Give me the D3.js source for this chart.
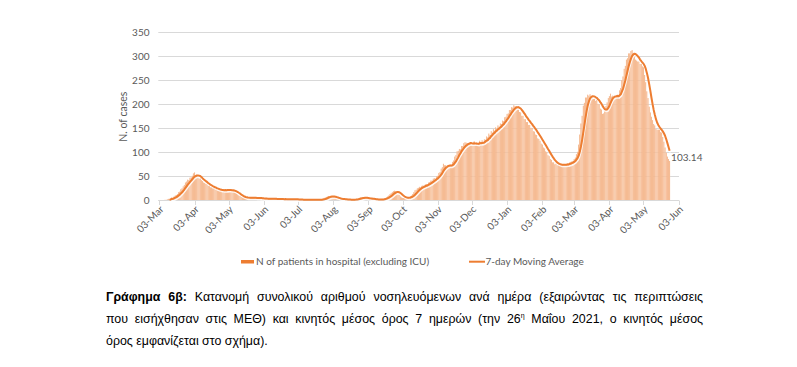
<!DOCTYPE html>
<html><head><meta charset="utf-8">
<script src="https://cdn.jsdelivr.net/npm/d3@7"></script>
<style>
html,body{margin:0;padding:0;background:#fff}
body{width:797px;height:367px;overflow:hidden;position:relative;font-family:"Liberation Sans",Arial,sans-serif}
svg{position:absolute;left:0;top:0}
.cap{position:absolute;left:106px;width:597px;font-size:12.4px;line-height:22px;color:#000}
.j{text-align:justify;text-align-last:justify}
sup{font-size:7px;vertical-align:5px;line-height:0}
</style></head><body>
<svg id="chart" width="797" height="280"></svg>
<div class="cap j" style="top:286px"><b>Γράφημα 6β:</b> Κατανομή συνολικού αριθμού νοσηλευόμενων ανά ημέρα (εξαιρώντας τις περιπτώσεις</div>
<div class="cap j" style="top:308px">που εισήχθησαν στις ΜΕΘ) και κινητός μέσος όρος 7 ημερών (την 26<sup>η</sup> Μαΐου 2021, ο κινητός μέσος</div>
<div class="cap" style="top:330px">όρος εμφανίζεται στο σχήμα).</div>
<script>
// ---------------- data ----------------
const firstDay = "2020-03-06";           // first daily value
const axisStart = "2020-03-03";
const axisEnd = "2021-06-03";
const tickDates = ["2020-03-03","2020-04-03","2020-05-03","2020-06-03","2020-07-03","2020-08-03",
  "2020-09-03","2020-10-03","2020-11-03","2020-12-03","2021-01-03","2021-02-03","2021-03-03",
  "2021-04-03","2021-05-03","2021-06-03"];
const yTicks = [0,50,100,150,200,250,300,350];
const seriesNames = ["N of patients in hospital (excluding ICU)", "7-day Moving Average"];
const maWindow = 7;
// daily number of patients in hospital (excluding ICU), from 6 Mar 2020 to 26 May 2021
const patients = [
  // Mar 2020 (6-31)
  0,0,1,1,2,3,2,4,6,5,8,10,11,13,17,18,23,25,29,32,37,39,43,42,47,48,
  // Apr 2020
  51,56,58,52,50,48,45,46,42,40,37,36,34,33,30,31,27,28,25,26,23,24,21,23,20,22,19,22,21,22,
  // May 2020
  22,21,23,20,21,19,21,18,16,14,12,10,9,7,6,6,5,5,5,6,6,5,5,6,5,5,5,4,5,5,4,
  // Jun 2020
  4,4,3,3,4,3,3,3,3,3,3,3,3,3,2,3,3,2,3,2,2,3,2,2,2,2,2,2,2,2,
  // Jul 2020
  2,2,2,1,1,1,1,1,1,1,1,1,1,1,1,1,1,1,1,1,1,1,1,2,3,5,6,7,8,9,8,
  // Aug 2020
  9,8,7,6,5,4,4,3,3,2,2,2,2,2,1,1,1,1,1,1,2,2,2,3,4,5,6,6,6,5,5,
  // Sep 2020
  4,4,4,3,3,3,2,2,2,1,1,1,2,2,3,3,4,5,6,8,10,13,15,17,19,20,19,17,14,12,
  // Oct 2020
  8,6,5,5,5,5,6,6,7,8,10,13,17,21,22,25,26,28,27,30,31,30,33,34,33,37,38,41,41,45,46,
  // Nov 2020
  45,50,51,57,59,66,69,76,73,73,69,72,72,74,73,80,83,91,94,102,103,107,106,113,113,119,121,120,118,119,
  // Dec 2020
  118,121,114,119,123,115,120,114,119,124,117,125,119,127,126,133,131,139,136,144,141,148,145,152,149,156,153,160,159,166,165,
  // Jan 2021
  173,174,180,181,188,188,194,193,198,196,196,191,191,184,183,176,176,169,169,163,163,157,157,151,151,144,143,137,136,129,128,
  // Feb 2021
  124,118,116,110,108,102,100,94,92,86,84,79,79,75,76,73,75,74,75,72,75,74,75,74,77,76,79,80,
  // Mar 2021
  81,82,86,89,96,101,116,137,160,176,197,203,214,214,220,218,221,215,217,211,213,207,209,201,200,191,189,180,181,185,196,
  // Apr 2021
  204,213,217,222,216,218,212,217,215,220,219,229,234,250,258,274,280,293,296,306,306,311,313,304,302,293,291,289,289,284,
  // May 2021 (1-26)
  284,279,277,261,246,227,213,195,183,174,167,159,156,149,147,147,147,142,141,132,122,110,99,91,86,82
];

// ---------------- chart ----------------
const parse = d3.utcParse("%Y-%m-%d");
const fmtTick = d3.utcFormat("%d-%b");
const day0 = parse(firstDay);
const rows = patients.map((v, i) => ({date: d3.utcDay.offset(day0, i), value: v}));
const maRows = rows.slice(maWindow - 1).map((r, k) => ({
  date: r.date,
  value: d3.mean(patients.slice(k, k + maWindow))
}));

const orange = "#ED7D31", grid = "#D9D9D9", txt = "#595959";
const font = "Lato, sans-serif";
const svg = d3.select("#chart");
const x = d3.scaleUtc().domain([parse(axisStart), parse(axisEnd)]).range([159.3, 678.7]);
const y = d3.scaleLinear().domain([0, 350]).range([200.3, 32.3]);
const step = x(d3.utcDay.offset(day0, 1)) - x(day0);

// gridlines
svg.append("g").selectAll("line").data(yTicks).join("line")
  .attr("x1", 158.3).attr("x2", 679)
  .attr("y1", d => Math.round(y(d)) + 0.5).attr("y2", d => Math.round(y(d)) + 0.5)
  .attr("stroke", grid).attr("stroke-width", 1);

// y labels
svg.append("g").selectAll("text").data(yTicks).join("text")
  .attr("x", 149.5).attr("y", d => y(d)).attr("dy", "0.35em")
  .attr("text-anchor", "end").attr("font-family", font).attr("font-size", 10)
  .attr("fill", txt).text(d => d);

// y title
svg.append("text").attr("transform", "translate(126.5,116.7) rotate(-90)")
  .attr("text-anchor", "middle").attr("font-family", font).attr("font-size", 10.5)
  .attr("fill", txt).text("N. of cases");

// bars: light body + darker core
const bars = svg.append("g");
bars.selectAll("rect.b").data(rows).join("rect").attr("class", "b")
  .attr("x", d => x(d.date) - step / 2).attr("width", step)
  .attr("y", d => y(d.value)).attr("height", d => y(0) - y(d.value))
  .attr("fill", "#FAD6BE");
bars.selectAll("rect.c").data(rows).join("rect").attr("class", "c")
  .attr("x", d => x(d.date) - step * 0.2).attr("width", step * 0.35)
  .attr("y", d => y(d.value)).attr("height", d => y(0) - y(d.value))
  .attr("fill", orange).attr("fill-opacity", 0.75);

// x axis line and ticks
svg.append("line").attr("x1", 158.3).attr("x2", 679).attr("y1", 200.5).attr("y2", 200.5)
  .attr("stroke", grid);
const tg = svg.append("g").selectAll("g").data(tickDates.map(parse)).join("g");
tg.append("line").attr("x1", d => Math.round(x(d)) + 0.5).attr("x2", d => Math.round(x(d)) + 0.5)
  .attr("y1", 200.5).attr("y2", 205).attr("stroke", grid);
tg.append("text")
  .attr("transform", d => `translate(${x(d) + 2.5},${207.5}) rotate(-45)`)
  .attr("text-anchor", "end").attr("dy", "0.35em")
  .attr("font-family", font).attr("font-size", 10).attr("fill", txt)
  .text(d => fmtTick(d));

// moving average line
const line = d3.line().x(d => x(d.date)).y(d => y(d.value));
svg.append("path").datum(maRows).attr("d", line).attr("fill", "none")
  .attr("stroke", "#fff").attr("stroke-opacity", 0.85).attr("stroke-width", 1.6)
  .attr("transform", "translate(0.7,1.8)").attr("stroke-linejoin", "round");
svg.append("path").datum(maRows).attr("d", line).attr("fill", "none")
  .attr("stroke", orange).attr("stroke-width", 2).attr("stroke-linejoin", "round");

// end label
const last = maRows[maRows.length - 1];
svg.append("text").attr("x", x(last.date) + 1.5).attr("y", y(last.value) + 7)
  .attr("dy", "0.35em").attr("font-family", font).attr("font-size", 10)
  .attr("fill", txt).text(d3.format(".2f")(last.value));

// legend
const lg = svg.append("g");
lg.append("rect").attr("x", 241).attr("y", 260).attr("width", 13).attr("height", 3.5).attr("fill", orange);
lg.append("text").attr("x", 256).attr("y", 261.7).attr("dy", "0.35em")
  .attr("font-family", font).attr("font-size", 10).attr("fill", txt).text(seriesNames[0]);
lg.append("line").attr("x1", 469).attr("x2", 485).attr("y1", 261.7).attr("y2", 261.7)
  .attr("stroke", orange).attr("stroke-width", 2);
lg.append("text").attr("x", 485.5).attr("y", 261.7).attr("dy", "0.35em")
  .attr("font-family", font).attr("font-size", 10).attr("fill", txt).text(seriesNames[1]);
</script>
</body></html>
